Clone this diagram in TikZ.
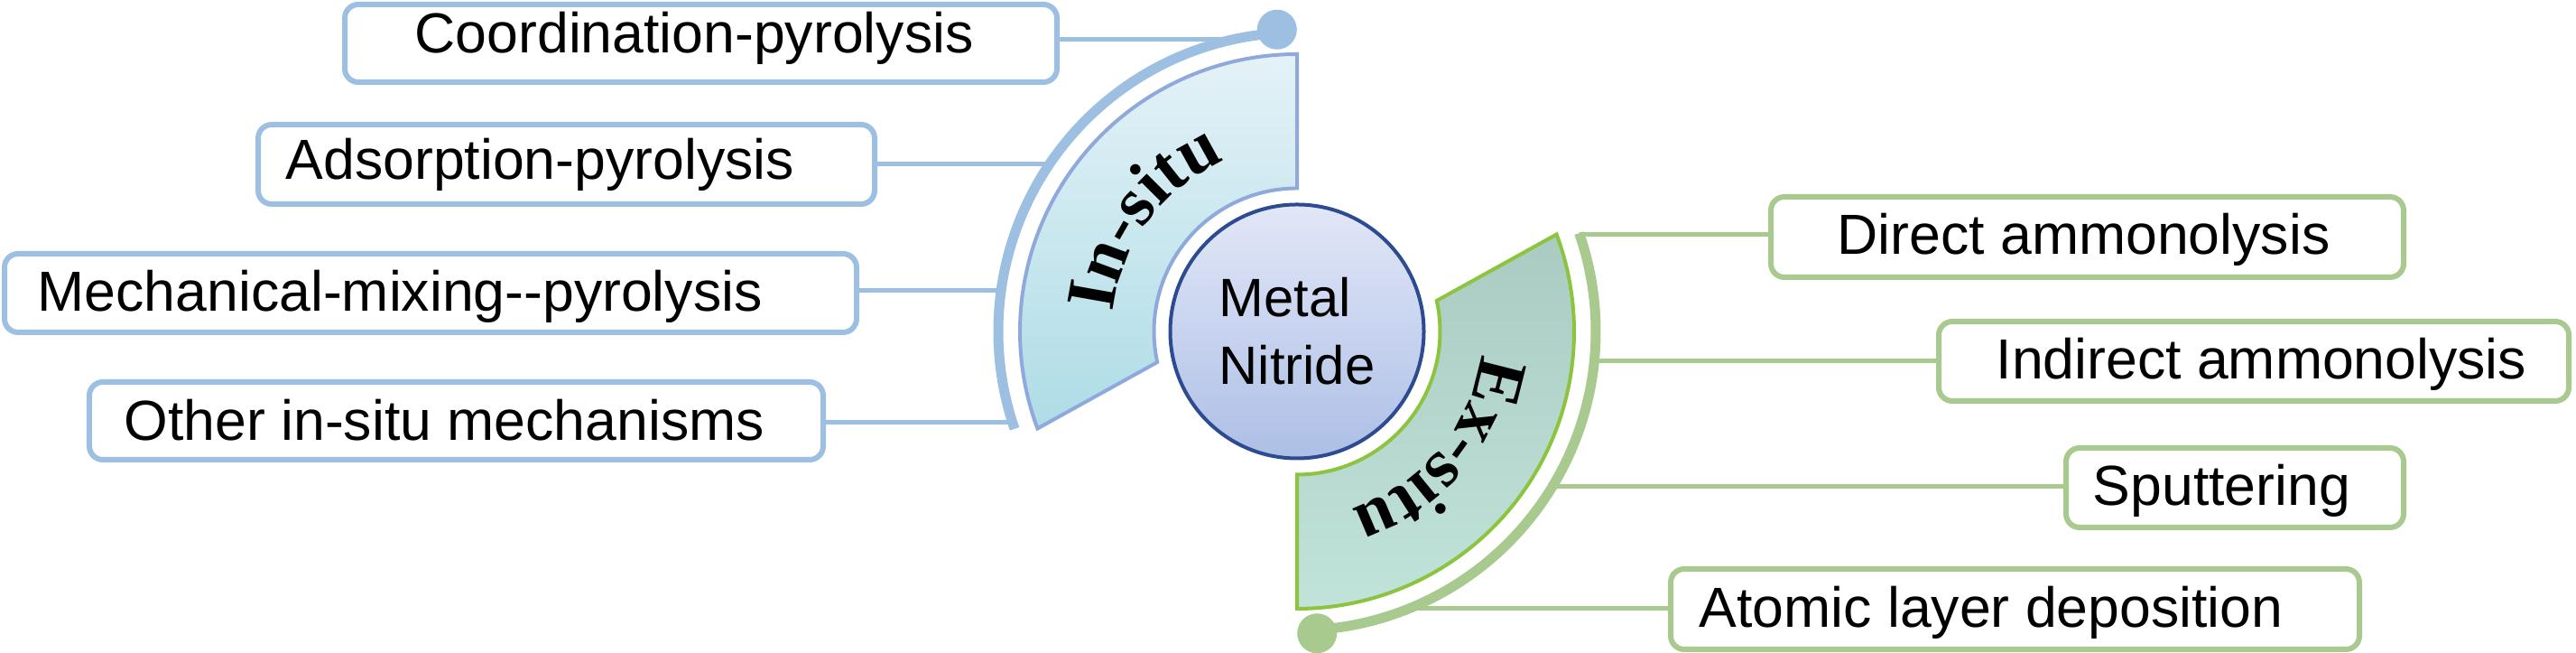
\documentclass[tikz,border=0pt]{standalone}
\usepackage{fontspec}
\setmainfont{Liberation Sans}
\newfontfamily\serifb{Liberation Serif}
\usetikzlibrary{calc,decorations.text}
\definecolor{bblue}{HTML}{9DBFE1}
\definecolor{sblue}{HTML}{8FA9DC}
\definecolor{itop}{HTML}{E4F2F7}
\definecolor{ibot}{HTML}{AEDCE6}
\definecolor{cblue}{HTML}{2D4B91}
\definecolor{ctop}{HTML}{E2E7F7}
\definecolor{cbot}{HTML}{ADBFE6}
\definecolor{bgreen}{HTML}{A8CA8F}
\definecolor{sgreen}{HTML}{8CC43F}
\definecolor{etop}{HTML}{ABCBC2}
\definecolor{ebot}{HTML}{C0E3DA}
\begin{document}
\begin{tikzpicture}[
  box/.style={draw=#1, line width=0.06cm, rounded corners=0.15cm, fill=white, inner sep=0},
  lbl/.style={anchor=base west, inner sep=0, font=\fontsize{17.8}{21}\selectfont},
  conn/.style={draw=#1, line width=0.05cm},
  band/.style={draw=#1, line width=0.11cm},
  dotn/.style={circle, fill=#1, minimum size=0.44cm, inner sep=0},
  sector/.style={line width=0.04cm},
  arclabel/.style={decorate, decoration={text along path, text align=center,
    text={|\serifb\bfseries\fontsize{22}{22}\selectfont|#1}}}
]
\useasboundingbox (0,0) rectangle (28.54,7.23);
\coordinate (C) at (14.37,3.56);

% arc coordinates for connectors
\coordinate (a1) at ({14.37-sqrt(3.31^2-3.23^2)},6.79);
\coordinate (a2) at ({14.37-sqrt(3.31^2-1.85^2)},5.41);
\coordinate (a3) at ({14.37-sqrt(3.31^2-0.45^2)},4.01);
\coordinate (a4) at ({14.37-sqrt(3.31^2-1.01^2)},2.55);
\coordinate (g5) at ({14.37+sqrt(3.31^2-1.07^2)},4.63);
\coordinate (g6) at ({14.37+sqrt(3.31^2-0.33^2)},3.23);
\coordinate (g7) at ({14.37+sqrt(3.31^2-1.72^2)},1.84);
\coordinate (g8) at ({14.37+sqrt(3.31^2-3.07^2)},0.49);

% boxes (left)
\node[box=bblue, minimum width=7.89cm, minimum height=0.86cm] (b1) at (7.765,6.75) {};
\node[box=bblue, minimum width=6.83cm, minimum height=0.88cm] (b2) at (6.275,5.41) {};
\node[box=bblue, minimum width=9.44cm, minimum height=0.87cm] (b3) at (4.77,3.985) {};
\node[box=bblue, minimum width=8.13cm, minimum height=0.86cm] (b4) at (5.055,2.57) {};
% boxes (right)
\node[box=bgreen, minimum width=7.01cm, minimum height=0.89cm] (b5) at (23.125,4.605) {};
\node[box=bgreen, minimum width=6.98cm, minimum height=0.88cm] (b6) at (24.97,3.23) {};
\node[box=bgreen, minimum width=3.74cm, minimum height=0.88cm] (b7) at (24.76,1.83) {};
\node[box=bgreen, minimum width=7.63cm, minimum height=0.89cm] (b8) at (22.325,0.485) {};

% connectors
\draw[conn=bblue] (b1.east |- a1) -- (a1);
\draw[conn=bblue] (b2.east |- a2) -- (a2);
\draw[conn=bblue] (b3.east |- a3) -- (a3);
\draw[conn=bblue] (b4.east |- a4) -- (a4);
\draw[conn=bgreen] (b5.west |- g5) -- (g5);
\draw[conn=bgreen] (b6.west |- g6) -- (g6);
\draw[conn=bgreen] (b7.west |- g7) -- (g7);
\draw[conn=bgreen] (b8.west |- g8) -- (g8);

% labels
\node[lbl] (t1) at (4.59,6.64) {Coordination-pyrolysis};
\node[lbl] (t2) at (3.16,5.24) {Adsorption-pyrolysis};
\node[lbl] (t3) at (0.41,3.78) {Mechanical-mixing-{}-pyrolysis};
\node[lbl] (t4) at (1.37,2.35) {Other in-situ mechanisms};
\node[lbl] (t5) at (20.35,4.41) {Direct ammonolysis};
\node[lbl] (t6) at (22.11,3.03) {Indirect ammonolysis};
\node[lbl] (t7) at (23.18,1.63) {Sputtering};
\node[lbl] (t8) at (18.82,0.28) {Atomic layer deposition};

% thick arcs and dots
\draw[band=bblue] ($(C)+(199:3.31)$) arc (199:93.8:3.31);
\draw[band=bgreen] ($(C)+(19.2:3.31)$) arc (19.2:-86.2:3.31);
\node[dotn=bblue] (d1) at ($(C)+(93.8:3.35)$) {};
\node[dotn=bgreen] (d2) at ($(C)+(-86.2:3.35)$) {};

% sectors
\draw[sector, draw=sblue, top color=itop, bottom color=ibot]
  ($(C)+(90:3.07)$) arc (90:200.5:3.07) -- ($(C)+(192.4:1.585)$) arc (192.4:90:1.585) -- cycle;
\draw[sector, draw=sgreen, top color=etop, bottom color=ebot]
  ($(C)+(270:3.07)$) arc (270:380.5:3.07) -- ($(C)+(12.4:1.585)$) arc (12.4:-90:1.585) -- cycle;

\path[arclabel={In-situ}] ($(C)+(187:2.05)$) arc (187:100:2.05);
\path[arclabel={Ex-situ}] ($(C)+(3.5:2.05)$) arc (3.5:-83.5:2.05);

% centre
\node[circle, draw=cblue, line width=0.04cm, top color=ctop, bottom color=cbot,
  minimum size=2.81cm, inner sep=0, align=left, font=\fontsize{17}{21.3}\selectfont]
  (mn) at (C) {Metal\\Nitride};
\end{tikzpicture}
\end{document}
